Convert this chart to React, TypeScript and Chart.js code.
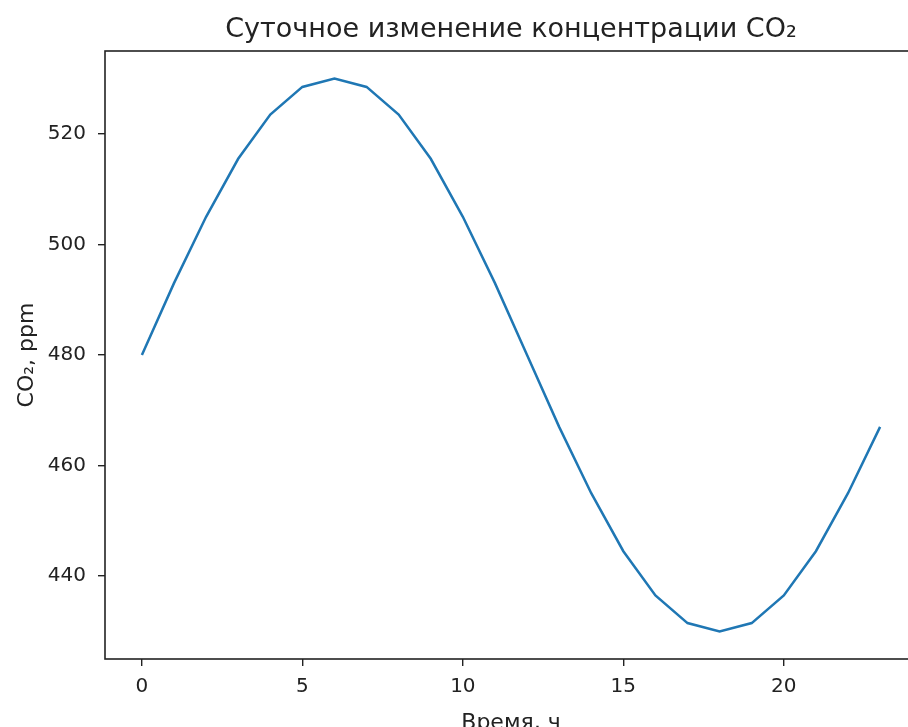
import React, { useEffect, useRef } from "react";
import { Chart, registerables } from "chart.js";

Chart.register(...registerables);

const hours: number[] = [0, 1, 2, 3, 4, 5, 6, 7, 8, 9, 10, 11, 12, 13, 14, 15, 16, 17, 18, 19, 20, 21, 22, 23];
const co2Values: number[] = [
  480, 493, 505, 515.5, 523.5, 528.5, 530, 528.5, 523.5, 515.5, 505, 493,
  480, 467, 455, 444.5, 436.5, 431.5, 430, 431.5, 436.5, 444.5, 455, 467,
];
const xTickValues: number[] = [0, 5, 10, 15, 20];
const yTickValues: number[] = [440, 460, 480, 500, 520];
const titleText = "Суточное изменение концентрации CO₂";
const xLabelText = "Время, ч";
const yLabelText = "CO₂, ppm";

const FONT = "'DejaVu Sans', sans-serif";
const CANVAS_W = 930;
const CANVAS_H = 727;

export default function App() {
  const ref = useRef<HTMLCanvasElement | null>(null);

  useEffect(() => {
    if (!ref.current) return;
    const frame = {
      id: "frameAndLabels",
      afterDraw(chart: any) {
        const { ctx, chartArea } = chart;
        const { left, top, right, bottom } = chartArea;
        ctx.save();
        ctx.strokeStyle = "#222";
        ctx.lineWidth = 1.6;
        ctx.strokeRect(left, top, right - left, bottom - top);
        ctx.fillStyle = "#222";
        ctx.textAlign = "center";
        ctx.textBaseline = "alphabetic";
        ctx.font = `27px ${FONT}`;
        ctx.fillText(titleText, (left + right) / 2, 37);
        ctx.font = `22px ${FONT}`;
        ctx.fillText(xLabelText, (left + right) / 2, 729);
        ctx.translate(33, (top + bottom) / 2);
        ctx.rotate(-Math.PI / 2);
        ctx.fillText(yLabelText, 0, 0);
        ctx.restore();
      },
    };
    const chart = new Chart(ref.current, {
      type: "line",
      data: {
        datasets: [
          {
            data: hours.map((h, i) => ({ x: h, y: co2Values[i] })),
            borderColor: "#1f77b4",
            borderWidth: 2.5,
            pointRadius: 0,
            tension: 0,
            fill: false,
          },
        ],
      },
      options: {
        animation: false,
        responsive: false,
        devicePixelRatio: 1,
        layout: { padding: { top: 51, left: 0, right: CANVAS_W - 917, bottom: 0 } },
        plugins: { legend: { display: false }, tooltip: { enabled: false }, title: { display: false } },
        scales: {
          x: {
            type: "linear",
            min: -1.15,
            max: 24.15,
            afterBuildTicks: (s: any) => {
              s.ticks = xTickValues.map((v) => ({ value: v }));
            },
            afterFit: (s: any) => {
              s.height = 68;
            },
            ticks: { font: { family: FONT, size: 20 }, color: "#222", padding: 9, maxRotation: 0, autoSkip: false },
            grid: { drawOnChartArea: false, drawTicks: true, tickLength: 7, color: "#222", lineWidth: 1.4 },
            border: { display: false },
          },
          y: {
            type: "linear",
            min: 425,
            max: 535,
            afterBuildTicks: (s: any) => {
              s.ticks = yTickValues.map((v) => ({ value: v }));
            },
            afterFit: (s: any) => {
              s.width = 105;
            },
            ticks: { font: { family: FONT, size: 20 }, color: "#222", padding: 12 },
            grid: { drawOnChartArea: false, drawTicks: true, tickLength: 7, color: "#222", lineWidth: 1.4 },
            border: { display: false },
          },
        },
      },
      plugins: [frame],
    } as any);
    return () => chart.destroy();
  }, []);

  return (
    <div
      style={{
        position: "fixed",
        left: 0,
        top: 0,
        width: 908,
        height: 727,
        overflow: "hidden",
        background: "#fff",
      }}
    >
      <canvas ref={ref} width={CANVAS_W} height={CANVAS_H} style={{ display: "block" }} />
    </div>
  );
}
